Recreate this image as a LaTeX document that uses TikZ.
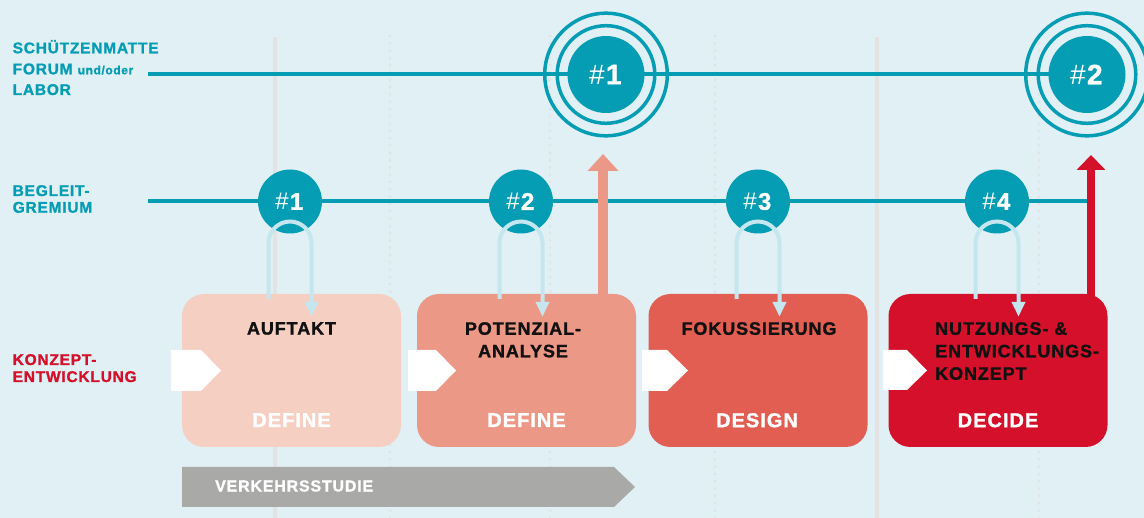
\documentclass[tikz,border=0pt]{standalone}
\usepackage{fontspec}
\setmainfont{Liberation Sans}[LetterSpace=5,BoldFeatures={FakeBold=1.3}]
\usetikzlibrary{arrows.meta,calc}
\definecolor{bgc}{HTML}{E0F0F5}
\definecolor{tealc}{HTML}{059DB4}
\definecolor{loopc}{HTML}{C6E6EF}
\definecolor{vgray}{HTML}{E3E3E3}
\definecolor{boxA}{HTML}{F6CFC3}
\definecolor{boxB}{HTML}{EC9886}
\definecolor{boxC}{HTML}{E35E52}
\definecolor{boxD}{HTML}{D5102B}
\definecolor{arrgray}{HTML}{A9A9A7}
\definecolor{txtc}{HTML}{111111}
\tikzset{
  vsolid/.style={draw=vgray,line width=4pt},
  vdot/.style={draw=vgray,line width=3pt,line cap=round,dash pattern=on 0pt off 7.3pt},
  hline/.style={draw=tealc,line width=4pt},
  ring/.style={draw=tealc,line width=3.5pt},
  bigc/.style={circle,fill=tealc,minimum size=77pt,inner sep=0pt,text=white,font=\fontsize{28}{28}\selectfont},
  smallc/.style={circle,fill=tealc,minimum size=64pt,inner sep=0pt,text=white,font=\fontsize{24}{24}\selectfont},
  procbox/.style={rectangle,rounded corners=22pt,minimum width=219pt,minimum height=153pt,inner sep=0pt},
  title/.style={inner sep=0pt,text=txtc,font=\fontsize{18}{22.5}\selectfont\bfseries},
  phase/.style={inner sep=0pt,text=white,font=\fontsize{20}{20}\selectfont\bfseries},
  lab/.style={inner sep=0pt,anchor=base west,text=tealc,font=\fontsize{15.5}{15.5}\selectfont\bfseries},
  redlab/.style={inner sep=0pt,anchor=base west,text=boxD,font=\fontsize{15.5}{15.5}\selectfont\bfseries},
  loopar/.style={draw=loopc,line width=4pt,-{Triangle[width=13pt,length=15pt]}},
  pent/.style={fill=white},
}
\newcommand{\numtxt}[1]{{\mdseries\#}\textbf{#1}}
\begin{document}
\begin{tikzpicture}[x=1pt,y=-1pt]
\fill[bgc] (0,0) rectangle (1144,518);
\useasboundingbox (0,0) rectangle (1144,518);
% vertical guide lines
\foreach \x in {275,877} \draw[vsolid] (\x,37) -- (\x,518);
\foreach \x in {390,550,715,1039} \draw[vdot] (\x,36) -- (\x,518);
% coordinates
\coordinate (t0) at (148,74.5);
\coordinate (g0) at (148,201.5);
\coordinate (gend) at (1091,201.5);
\coordinate (F1c) at (606,74.5);
\coordinate (F2c) at (1087,74.5);
% horizontal lines
\draw[hline] (t0) -- (F2c);
\draw[hline] (g0) -- (gend);
% big circles
\foreach \c in {F1c,F2c}{
  \draw[ring] (\c) circle[radius=61.3pt];
  \draw[ring] (\c) circle[radius=48.8pt];
}
\node[bigc] (F1) at (F1c) {\numtxt{1}};
\node[bigc] (F2) at (F2c) {\numtxt{2}};
% small circles
\node[smallc] (c1) at (290,201.5) {\numtxt{1}};
\node[smallc] (c2) at (521,201.5) {\numtxt{2}};
\node[smallc] (c3) at (758,201.5) {\numtxt{3}};
\node[smallc] (c4) at (997,201.5) {\numtxt{4}};
% boxes
\node[procbox,fill=boxA] (b1) at (291.5,370.5) {};
\node[procbox,fill=boxB] (b2) at (526.5,370.5) {};
\node[procbox,fill=boxC] (b3) at (758,370.5) {};
\node[procbox,fill=boxD] (b4) at (998,370.5) {};
% entry pentagons
\fill[pent] (171,350) -- (201,350) -- (221,370.5) -- (201,391) -- (171,391) -- cycle;
\fill[pent] (408,350) -- (436,350) -- (456,370.5) -- (436,391) -- (408,391) -- cycle;
\fill[pent] (642,350) -- (667,350) -- (688,370.5) -- (667,391) -- (642,391) -- cycle;
\fill[pent] (883,350) -- (907,350) -- (927,370.5) -- (907,390) -- (883,390) -- cycle;
% titles
\node[title,anchor=north] (t1) at (291.5,322) {AUFTAKT};
\node[title,anchor=north,align=center] (t2) at (523,322) {POTENZIAL-\\ANALYSE};
\node[title,anchor=north] (t3) at (759,322) {FOKUSSIERUNG};
\node[title,anchor=north west,align=left] (t4) at (935,322) {NUTZUNGS- \&\\ENTWICKLUNGS-\\KONZEPT};
% phases
\node[phase,anchor=north] (p1) at (291.5,413) {DEFINE};
\node[phase,anchor=north] (p2) at (526.5,413) {DEFINE};
\node[phase,anchor=north] (p3) at (757,413) {DESIGN};
\node[phase,anchor=north] (p4) at (998,413) {DECIDE};
% loop arrows
\foreach \c/\b in {c1/b1,c2/b2,c3/b3,c4/b4}{
  \draw[loopar] ($(\b.north -| \c.center)+(-21.5,5)$) -- ($(\c.center)+(-21.5,41.5)$)
     arc[start angle=180,end angle=0,radius=21.5pt] -- ($(\b.north -| \c.center)+(21.5,23)$);
}
% up arrows
\coordinate (u1) at (603,154);
\coordinate (u2) at (1091,155);
\draw[draw=boxB,line width=10pt,-{Triangle[width=30pt,length=17pt]}] ($(b2.north -| u1)+(0,3)$) -- (u1);
\draw[draw=boxD,line width=8pt,-{Triangle[width=28pt,length=15pt]}] ($(b4.north -| u2)+(0,3)$) -- (u2);
% Verkehrsstudie
\fill[arrgray] (182,467) -- (614,467) -- (635,487) -- (614,507) -- (182,507) -- cycle;
\node[inner sep=0pt,anchor=west,text=white,font=\fontsize{16}{16}\selectfont\bfseries] (vs) at (215,486) {VERKEHRSSTUDIE};
% left labels
\node[lab] (l1) at (12.5,53.3) {SCHÜTZENMATTE};
\node[lab] (l2) at (12.5,74.3) {FORUM {\fontsize{12}{12}\selectfont und/oder}};
\node[lab] (l3) at (12.5,95) {LABOR};
\node[lab] (l4) at (12.5,196) {BEGLEIT-};
\node[lab] (l5) at (12.5,212.7) {GREMIUM};
\node[redlab] (l6) at (12.5,365) {KONZEPT-};
\node[redlab] (l7) at (12.5,382) {ENTWICKLUNG};
\end{tikzpicture}
\end{document}
